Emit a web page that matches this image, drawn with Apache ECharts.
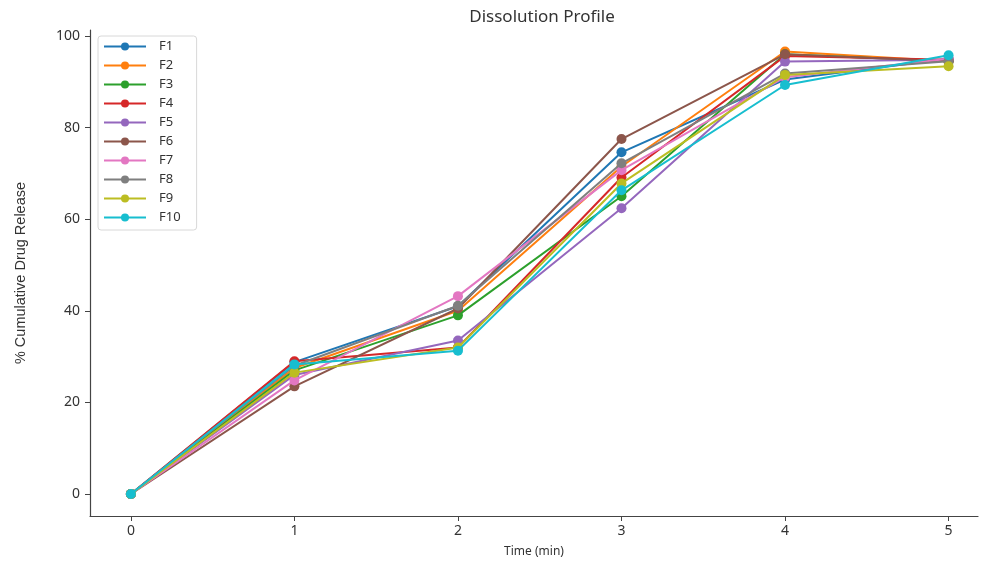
<!DOCTYPE html>
<html>
<head>
<meta charset="utf-8">
<script src="https://cdn.jsdelivr.net/npm/echarts@6/dist/echarts.min.js"></script>
<style>
  html, body { margin: 0; padding: 0; background: #fff; }
  #chart { width: 981px; height: 563px; }
</style>
</head>
<body>
<div id="chart"></div>
<script>
// Sampling times (min)
const times = [0, 1, 2, 3, 4, 5];

// % cumulative drug release per formulation
const F1 = [0, 28.8, 41.0, 74.6, 90.5, 95.0];
const F2 = [0, 27.5, 40.0, 71.5, 96.6, 94.5];
const F3 = [0, 27.0, 39.0, 65.0, 96.0, 94.5];
const F4 = [0, 29.0, 32.0, 69.1, 95.6, 94.8];
const F5 = [0, 26.0, 33.5, 62.4, 94.4, 94.8];
const F6 = [0, 23.5, 40.5, 77.5, 96.0, 94.5];
const F7 = [0, 24.8, 43.2, 70.7, 91.0, 95.0];
const F8 = [0, 28.0, 41.1, 72.2, 91.8, 94.5];
const F9 = [0, 26.5, 32.0, 67.8, 91.5, 93.4];
const F10 = [0, 28.3, 31.3, 66.3, 89.3, 95.8];

const seriesNames = ['F1', 'F2', 'F3', 'F4', 'F5', 'F6', 'F7', 'F8', 'F9', 'F10'];
const seriesValues = [F1, F2, F3, F4, F5, F6, F7, F8, F9, F10];
const colors = ['#1f77b4', '#ff7f0e', '#2ca02c', '#d62728', '#9467bd',
                '#8c564b', '#e377c2', '#7f7f7f', '#bcbd22', '#17becf'];

const xTicks = [0, 1, 2, 3, 4, 5];
const yTicks = [0, 20, 40, 60, 80, 100];

const FONT = '"Noto Sans", "Open Sans", sans-serif';

const chart = echarts.init(document.getElementById('chart'), null, { renderer: 'canvas' });

chart.setOption({
  animation: false,
  backgroundColor: '#fff',
  color: colors,
  title: {
    text: 'Dissolution Profile',
    left: 537,
    textAlign: 'center',
    top: 4,
    textStyle: { fontFamily: FONT, fontSize: 17, fontWeight: 'normal', color: '#333' }
  },
  legend: {
    orient: 'vertical',
    left: 98,
    top: 36,
    data: seriesNames,
    itemWidth: 42,
    itemHeight: 10,
    itemGap: 6,
    padding: [4, 16, 6, 5],
    borderColor: '#d8d8d8',
    borderWidth: 1,
    borderRadius: 3,
    backgroundColor: '#fff',
    textStyle: { fontFamily: FONT, fontSize: 13, color: '#333', padding: [0, 0, 0, 8] }
  },
  grid: { left: 90, right: 3, top: 30, bottom: 47, containLabel: false },
  xAxis: {
    type: 'value',
    min: -0.25,
    max: 5.18,
    name: 'Time (min)',
    nameLocation: 'middle',
    nameGap: 30,
    nameTextStyle: { fontFamily: FONT, fontSize: 12, color: '#333' },
    splitLine: { show: false },
    axisLine: { show: true, onZero: false, lineStyle: { color: '#444', width: 1.2 } },
    axisTick: { show: true, length: 5, customValues: xTicks, lineStyle: { color: '#444' } },
    axisLabel: { customValues: xTicks, fontFamily: FONT, fontSize: 14, color: '#333', margin: 8 }
  },
  yAxis: {
    type: 'value',
    min: -4.8,
    max: 101.3,
    name: '% Cumulative Drug Release',
    nameLocation: 'middle',
    nameGap: 62,
    nameTextStyle: { fontFamily: '"Liberation Sans Narrow", "Liberation Sans", sans-serif', fontSize: 14.5, color: '#333' },
    splitLine: { show: false },
    axisLine: { show: true, onZero: false, lineStyle: { color: '#444', width: 1.2 } },
    axisTick: { show: true, length: 5, customValues: yTicks, lineStyle: { color: '#444' } },
    axisLabel: { customValues: yTicks, fontFamily: FONT, fontSize: 14, color: '#333', margin: 10 }
  },
  series: seriesNames.map((name, i) => ({
    name: name,
    type: 'line',
    data: times.map((t, j) => [t, seriesValues[i][j]]),
    symbol: 'circle',
    symbolSize: 10,
    lineStyle: { width: 2 },
    z: 2 + i
  }))
});
</script>
</body>
</html>
